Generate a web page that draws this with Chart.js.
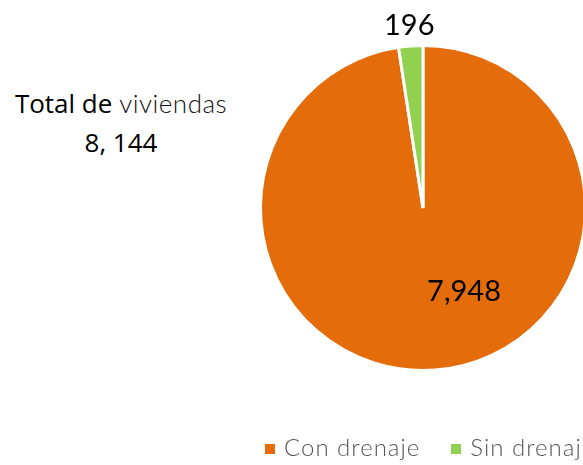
<!DOCTYPE html>
<html lang="es">
<head>
    <meta charset="UTF-8">
    <title>Viviendas con drenaje</title>
    <script src="https://cdn.jsdelivr.net/npm/chart.js"></script>
    <style>
        html, body { margin: 0; padding: 0; background: #fff; }
        body { width: 583px; height: 465px; overflow: hidden; position: relative; }
        #wrap { position: absolute; left: 0; top: 0; width: 620px; height: 465px; }
        .total { position: absolute; left: 0; width: 242px; text-align: center; color: #000;
                 font-family: "Open Sans", sans-serif; font-size: 26px; line-height: 30px; white-space: nowrap; }
        #t1 { top: 88px; }
        #t1 span { font-family: Lato, sans-serif; font-weight: 300; color: #111; letter-spacing: 0.5px; }
        #t2 { top: 127px; }
        #legend { position: absolute; top: 432px; left: 265px; white-space: nowrap;
                  font-family: Lato, sans-serif; font-weight: 300; font-size: 24px; letter-spacing: 1px; color: #555; }
        #legend .item { display: inline-block; margin-right: 31px; }
        #legend .sw { display: inline-block; width: 10px; height: 10px; margin-right: 9px; vertical-align: 2px; }
    </style>
</head>
<body>
    <div class="total" id="t1">Total de <span>viviendas</span></div>
    <div class="total" id="t2"></div>
    <div id="wrap"><canvas id="pie"></canvas></div>
    <div id="legend"></div>

    <script>
        // datos
        const categorias = ["Con drenaje", "Sin drenaje"];
        const viviendas = [7948, 196];
        const etiquetas = ["7,948", "196"];
        const colores = ["#E46C0A", "#92D050"];
        const totalTexto = "8, 144";

        document.getElementById('t2').textContent = totalTexto;

        // leyenda en html
        const leg = document.getElementById('legend');
        categorias.forEach((c, i) => {
            const it = document.createElement('span');
            it.className = 'item';
            it.innerHTML = '<span class="sw" style="background:' + colores[i] + '"></span>' + c;
            leg.appendChild(it);
        });

        // posicion de etiquetas: fraccion del radio y desplazamiento
        const posEtiq = [
            { r: 0.5, dx: 35, dy: 4 },
            { r: 1.14, dx: 0, dy: 0 }
        ];

        const etiquetasPlugin = {
            id: 'etiquetas',
            afterDatasetsDraw(chart) {
                const ctx = chart.ctx;
                const meta = chart.getDatasetMeta(0);
                ctx.save();
                ctx.font = '400 29px Lato, sans-serif';
                ctx.fillStyle = '#000';
                ctx.textAlign = 'center';
                ctx.textBaseline = 'middle';
                meta.data.forEach((arc, i) => {
                    const p = arc.getProps(['x', 'y', 'startAngle', 'endAngle', 'outerRadius'], true);
                    const mid = (p.startAngle + p.endAngle) / 2;
                    const r = 160 * posEtiq[i].r;
                    const x = p.x + Math.cos(mid) * r + posEtiq[i].dx;
                    const y = p.y + Math.sin(mid) * r + posEtiq[i].dy;
                    ctx.fillText(etiquetas[i], x, y);
                });
                ctx.restore();
            }
        };

        new Chart(document.getElementById('pie'), {
            type: 'pie',
            data: {
                labels: categorias,
                datasets: [{
                    data: viviendas,
                    backgroundColor: colores,
                    borderColor: '#fff',
                    borderWidth: 3
                }]
            },
            options: {
                responsive: true,
                maintainAspectRatio: false,
                animation: false,
                layout: { padding: { left: 259, right: 33, top: 44, bottom: 93 } },
                plugins: {
                    legend: { display: false },
                    tooltip: { enabled: false }
                }
            },
            plugins: [etiquetasPlugin]
        });
    </script>
</body>
</html>
